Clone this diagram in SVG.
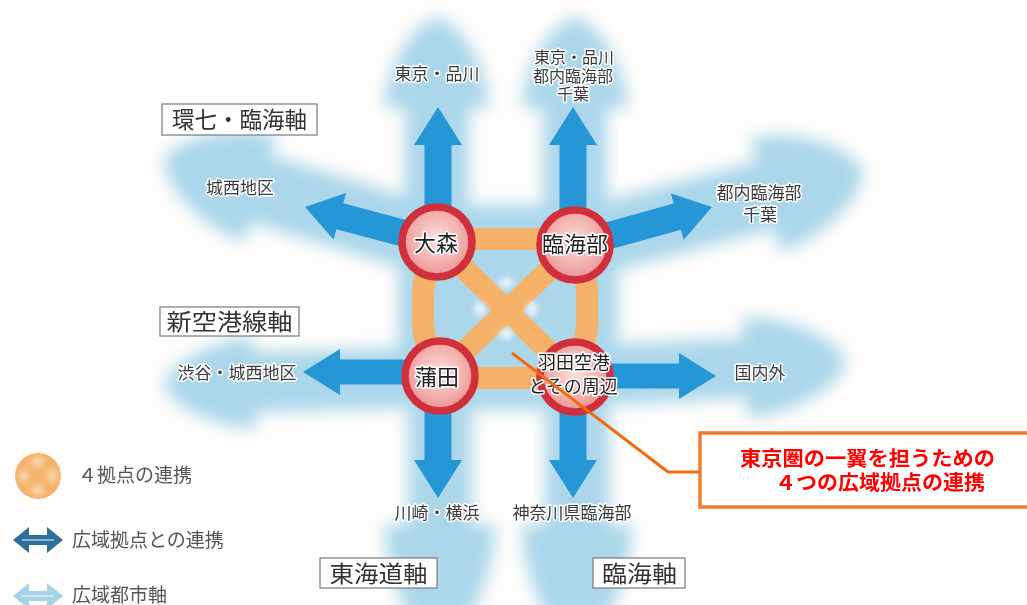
<svg xmlns="http://www.w3.org/2000/svg" width="1027" height="605" viewBox="0 0 1027 605">
<defs>
<style>
.lb{fill:#acd7eb;}
.db{fill:#2697d6;}
.lbl{font-family:"Noto Sans CJK JP","Noto Sans CJK SC",sans-serif;font-size:17px;fill:#3a3a3a;text-anchor:middle;stroke:#ffffff;stroke-width:3px;paint-order:stroke;stroke-linejoin:round;}
.node{fill:url(#pink);stroke:#d0303c;stroke-width:7.5;}
.nt{font-family:"Noto Sans CJK JP","Noto Sans CJK SC",sans-serif;font-size:22px;fill:#1e1e1e;text-anchor:middle;stroke:#ffffff;stroke-width:3px;paint-order:stroke;stroke-linejoin:round;}
.axbox{fill:#ffffff;stroke:#7a7a7a;stroke-width:1.2;}
.axt{font-family:"Noto Sans CJK JP","Noto Sans CJK SC",sans-serif;font-size:23px;fill:#333333;text-anchor:middle;}
.leg{font-family:"Noto Sans CJK JP","Noto Sans CJK SC",sans-serif;font-size:19px;fill:#555555;}
.call{font-family:"Noto Sans CJK JP","Noto Sans CJK SC",sans-serif;font-size:20px;font-weight:bold;fill:#ff0000;}
.orange{fill:none;stroke:#f6b168;stroke-width:22;}
</style>
<filter id="blur" x="-30%" y="-30%" width="160%" height="160%"><feGaussianBlur stdDeviation="7.5"/></filter>
<filter id="blur2" x="-50%" y="-50%" width="200%" height="200%"><feGaussianBlur stdDeviation="3"/></filter>
<radialGradient id="pink" cx="50%" cy="45%" r="55%">
<stop offset="0" stop-color="#fbe0de"/>
<stop offset="0.6" stop-color="#f4b3b0"/>
<stop offset="1" stop-color="#e88f92"/>
</radialGradient>
</defs>
<rect x="0" y="0" width="1027" height="605" fill="#fefdfb"/>

<g id="wide-axes" filter="url(#blur)">
<path class="lb" transform="translate(437,18)" d="M-32,222 L-32,90 L-52,90 C-52,45 -18,0 0,0 C18,0 52,45 52,90 L32,90 L32,222 Z"/>
<path class="lb" transform="translate(575,18)" d="M-32,222 L-32,90 L-52,90 C-52,45 -18,0 0,0 C18,0 52,45 52,90 L32,90 L32,222 Z"/>
<path class="lb" transform="translate(440,645) rotate(180)" d="M-32,265 L-32,120 L-55,120 C-55,60 -19,0 0,0 C19,0 55,60 55,120 L32,120 L32,265 Z"/>
<path class="lb" transform="translate(577,645) rotate(180)" d="M-32,265 L-32,120 L-55,120 C-55,60 -19,0 0,0 C19,0 55,60 55,120 L32,120 L32,265 Z"/>
<path class="lb" transform="translate(165,160) rotate(-73.2)" d="M-35,284 L-35,100 L-55,100 C-55,50 -19,0 0,0 C19,0 55,50 55,100 L35,100 L35,284 Z"/>
<path class="lb" transform="translate(862,170) rotate(75.4)" d="M-35,297 L-35,100 L-58,100 C-58,50 -20,0 0,0 C20,0 58,50 58,100 L35,100 L35,297 Z"/>
<path class="lb" transform="translate(165,385) rotate(-91.7)" d="M-30,277 L-30,90 L-45,90 C-45,45 -16,0 0,0 C16,0 45,45 45,90 L30,90 L30,277 Z"/>
<path class="lb" transform="translate(845,362) rotate(86.8)" d="M-30,270 L-30,100 L-50,100 C-50,50 -18,0 0,0 C18,0 50,50 50,100 L30,100 L30,270 Z"/>
<rect class="lb" x="398" y="205" width="220" height="205" rx="40"/>
</g>

<g id="four-hub-link">
<rect class="orange" x="423" y="239" width="164" height="139" rx="55"/>
<line class="orange" x1="437" y1="242" x2="575" y2="377"/>
<line class="orange" x1="575" y1="245" x2="440" y2="375"/>
<g filter="url(#blur2)" fill="#ffffff" opacity="0.85">
<ellipse cx="506" cy="283" rx="7" ry="5"/>
<ellipse cx="506" cy="334" rx="7" ry="5"/>
<ellipse cx="480" cy="309" rx="5" ry="7"/>
<ellipse cx="532" cy="309" rx="5" ry="7"/>
</g>
</g>

<g id="connectors">
<path class="db" transform="translate(438,107)" d="M0,0 L24,38 L13.5,38 L13.5,134 L-13.5,134 L-13.5,38 L-24,38 Z"/>
<path class="db" transform="translate(573,107)" d="M0,0 L24,38 L13.5,38 L13.5,138 L-13.5,138 L-13.5,38 L-24,38 Z"/>
<path class="db" transform="translate(305,207) rotate(-75.1)" d="M0,0 L24,36 L13.5,36 L13.5,137 L-13.5,137 L-13.5,36 L-24,36 Z"/>
<path class="db" transform="translate(712,207) rotate(74.5)" d="M0,0 L24,36 L13.5,36 L13.5,142 L-13.5,142 L-13.5,36 L-24,36 Z"/>
<path class="db" transform="translate(303,372) rotate(-90)" d="M0,0 L23,37 L12.5,37 L12.5,137 L-12.5,137 L-12.5,37 L-23,37 Z"/>
<path class="db" transform="translate(716,376) rotate(90)" d="M0,0 L23,37 L12.5,37 L12.5,141 L-12.5,141 L-12.5,37 L-23,37 Z"/>
<path class="db" transform="translate(438,498) rotate(180)" d="M0,0 L24,38 L13.5,38 L13.5,123 L-13.5,123 L-13.5,38 L-24,38 Z"/>
<path class="db" transform="translate(573,498) rotate(180)" d="M0,0 L24,38 L13.5,38 L13.5,121 L-13.5,121 L-13.5,38 L-24,38 Z"/>
</g>

<g id="node-omori">
<circle class="node" cx="437" cy="242" r="35"/>
<text class="nt" x="436" y="251">大森</text>
</g>
<g id="node-rinkaibu">
<circle class="node" cx="575" cy="245" r="35"/>
<text class="nt" x="575" y="252">臨海部</text>
</g>
<g id="node-kamata">
<circle class="node" cx="440" cy="376" r="35"/>
<text class="nt" x="437" y="385">蒲田</text>
</g>
<g id="node-haneda">
<circle class="node" cx="575" cy="377" r="35"/>
<text class="nt" x="574" y="369" style="font-size:18px">羽田空港</text>
<text class="nt" x="573" y="393" style="font-size:18px">とその周辺</text>
</g>

<g id="destination-labels">
<text class="lbl" x="437" y="80">東京・品川</text>
<text class="lbl" x="574" y="63" style="font-size:16px">東京・品川</text>
<text class="lbl" x="573" y="82" style="font-size:16px">都内臨海部</text>
<text class="lbl" x="573" y="100" style="font-size:16px">千葉</text>
<text class="lbl" x="240" y="194">城西地区</text>
<text class="lbl" x="759" y="199">都内臨海部</text>
<text class="lbl" x="760" y="221">千葉</text>
<text class="lbl" x="237" y="379">渋谷・城西地区</text>
<text class="lbl" x="760" y="379">国内外</text>
<text class="lbl" x="437" y="519">川崎・横浜</text>
<text class="lbl" x="572" y="519">神奈川県臨海部</text>
</g>

<g id="axis-kannana">
<rect class="axbox" x="162" y="104" width="155" height="31"/>
<text class="axt" x="239.5" y="128" textLength="135" lengthAdjust="spacingAndGlyphs">環七・臨海軸</text>
</g>
<g id="axis-shinkuko">
<rect class="axbox" x="160" y="307" width="139" height="29"/>
<text class="axt" x="229.5" y="330" textLength="126" lengthAdjust="spacingAndGlyphs">新空港線軸</text>
</g>
<g id="axis-tokaido">
<rect class="axbox" x="320" y="558" width="117" height="30"/>
<text class="axt" x="378.5" y="582" textLength="98" lengthAdjust="spacingAndGlyphs">東海道軸</text>
</g>
<g id="axis-rinkai">
<rect class="axbox" x="593" y="558" width="92" height="30"/>
<text class="axt" x="639.5" y="582" textLength="75" lengthAdjust="spacingAndGlyphs">臨海軸</text>
</g>

<g id="callout">
<polyline points="512,353 668,472 700,472" fill="none" stroke="#f26b10" stroke-width="3"/>
<rect x="700" y="433" width="340" height="74" fill="#ffffff" stroke="#ed7d31" stroke-width="3.5"/>
<text class="call" x="740" y="466" textLength="255" lengthAdjust="spacingAndGlyphs">東京圏の一翼を担うための</text>
<text class="call" x="775" y="490" textLength="210" lengthAdjust="spacingAndGlyphs">４つの広域拠点の連携</text>
</g>

<g id="legend">
<circle cx="38" cy="476" r="23" fill="#f5b36c"/>
<g filter="url(#blur2)" fill="#fbe3c8">
<ellipse cx="38" cy="462" rx="6" ry="4"/>
<ellipse cx="38" cy="490" rx="6" ry="4"/>
<ellipse cx="24" cy="476" rx="4" ry="6"/>
<ellipse cx="52" cy="476" rx="4" ry="6"/>
</g>
<text class="leg" x="78" y="482">４拠点の連携</text>
<path d="M13,540 L29,527 L29,535 L47,535 L47,527 L63,540 L47,553 L47,545 L29,545 L29,553 Z" fill="#2e6e98"/>
<line x1="22" y1="540" x2="54" y2="540" stroke="#ffffff" stroke-width="1.2" opacity="0.8"/>
<text class="leg" x="72" y="547">広域拠点との連携</text>
<path d="M13,596 L29,583 L29,591 L47,591 L47,583 L63,596 L47,609 L47,601 L29,601 L29,609 Z" fill="#a5d3e6"/>
<line x1="22" y1="596" x2="54" y2="596" stroke="#ffffff" stroke-width="1.2" opacity="0.8"/>
<text class="leg" x="72" y="602">広域都市軸</text>
</g>
</svg>
